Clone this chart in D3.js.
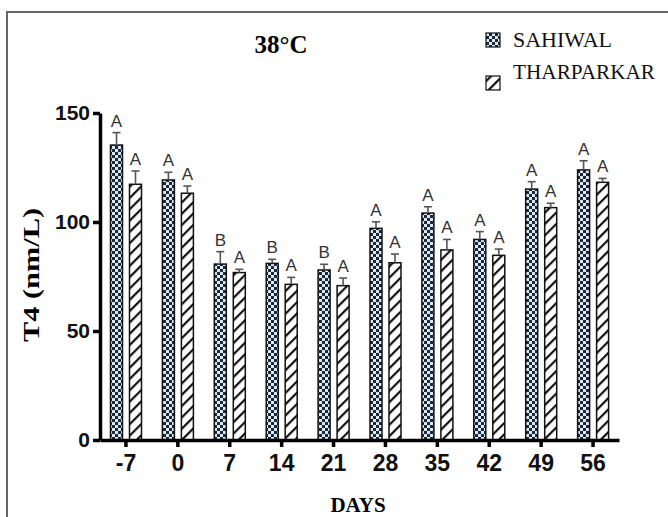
<!DOCTYPE html>
<html>
<head>
<meta charset="utf-8">
<script src="https://cdn.jsdelivr.net/npm/d3@7"></script>
<style>
  body { margin: 0; background: #fff; }
  svg { display: block; }
</style>
</head>
<body>
<div class="chart"></div>
<script>
// data
var days = ["-7", "0", "7", "14", "21", "28", "35", "42", "49", "56"];
var series = ["SAHIWAL", "THARPARKAR"];
var sahiwal = [135.3, 119.3, 80.7, 81.0, 78.0, 97.1, 104.1, 92.0, 115.1, 123.9];
var sahiwalErr = [141.0, 122.8, 86.4, 82.9, 80.6, 100.1, 107.0, 95.6, 118.5, 128.1];
var tharparkar = [117.3, 113.2, 76.8, 71.4, 70.8, 81.3, 87.2, 84.7, 106.6, 118.2];
var tharparkarErr = [123.4, 116.5, 78.3, 74.6, 74.3, 85.3, 92.0, 87.6, 108.6, 120.0];
var sahiwalLetters = ["A", "A", "B", "B", "B", "A", "A", "A", "A", "A"];
var tharparkarLetters = ["A", "A", "A", "A", "A", "A", "A", "A", "A", "A"];
var yTicks = [0, 50, 100, 150];

var W = 668, H = 517;
var margin = {top: 113, right: 49, bottom: 77, left: 100},
    width = W - margin.left - margin.right,
    height = H - margin.top - margin.bottom;

var SANS = "'Liberation Sans', Arial, sans-serif";
var SERIF = "'Liberation Serif', 'Times New Roman', serif";

var rows = [];
days.forEach(function(d, i) {
  rows.push({day: d, s: series[0], v: sahiwal[i], e: sahiwalErr[i], l: sahiwalLetters[i]});
  rows.push({day: d, s: series[1], v: tharparkar[i], e: tharparkarErr[i], l: tharparkarLetters[i]});
});

var svg = d3.select(".chart").append("svg")
    .attr("width", W)
    .attr("height", H);

// patterns
var defs = svg.append("defs");
var chk = defs.append("pattern")
    .attr("id", "checker")
    .attr("patternUnits", "userSpaceOnUse")
    .attr("width", 6).attr("height", 6);
chk.append("rect").attr("width", 6).attr("height", 6).attr("fill", "#dce9f2");
chk.append("rect").attr("width", 3).attr("height", 3).attr("fill", "#1b2838");
chk.append("rect").attr("x", 3).attr("y", 3).attr("width", 3).attr("height", 3).attr("fill", "#1b2838");

var hatch = defs.append("pattern")
    .attr("id", "hatch")
    .attr("patternUnits", "userSpaceOnUse")
    .attr("width", 8).attr("height", 8)
    .attr("patternTransform", "rotate(45)");
hatch.append("rect").attr("width", 8).attr("height", 8).attr("fill", "#fff");
hatch.append("rect").attr("width", 2.2).attr("height", 8).attr("fill", "#111");

var fills = {"SAHIWAL": "url(#checker)", "THARPARKAR": "url(#hatch)"};

// outer frame
svg.append("path")
    .attr("d", "M7," + H + "V12H" + W)
    .attr("fill", "none")
    .attr("stroke", "#666")
    .attr("stroke-width", 2);

var g = svg.append("g")
    .attr("transform", "translate(" + margin.left + "," + margin.top + ")");

// scales
var x0 = d3.scaleBand().domain(days).range([0, width]).padding(0);
var x1 = d3.scaleBand().domain(series).range([10.5, 41.5]).paddingInner(0.368);
var y = d3.scaleLinear().domain([0, 150]).range([height, 0]);

// bars
g.selectAll(".bar")
    .data(rows)
  .enter().append("rect")
    .attr("class", "bar")
    .attr("x", function(d) { return x0(d.day) + x1(d.s); })
    .attr("y", function(d) { return y(d.v); })
    .attr("width", x1.bandwidth())
    .attr("height", function(d) { return y(0) - y(d.v); })
    .attr("fill", function(d) { return fills[d.s]; })
    .attr("stroke", "#111")
    .attr("stroke-width", 1.5);

// error bars (upper only)
var eb = g.selectAll(".err")
    .data(rows)
  .enter().append("g")
    .attr("class", "err")
    .attr("transform", function(d) { return "translate(" + (x0(d.day) + x1(d.s) + x1.bandwidth() / 2) + ",0)"; });
eb.append("line")
    .attr("y1", function(d) { return y(d.v); })
    .attr("y2", function(d) { return y(d.e); })
    .attr("stroke", "#555").attr("stroke-width", 1.6);
eb.append("line")
    .attr("x1", -4).attr("x2", 4)
    .attr("y1", function(d) { return y(d.e); })
    .attr("y2", function(d) { return y(d.e); })
    .attr("stroke", "#555").attr("stroke-width", 1.6);
eb.append("text")
    .attr("y", function(d) { return y(d.e) - 6; })
    .attr("text-anchor", "middle")
    .attr("font-family", SANS)
    .attr("font-size", 17)
    .attr("fill", "#333")
    .text(function(d) { return d.l; });

// axes
var xAxis = g.append("g")
    .attr("transform", "translate(0," + height + ")")
    .call(d3.axisBottom(x0).tickSize(7).tickSizeOuter(0).tickPadding(8));
var yAxis = g.append("g")
    .call(d3.axisLeft(y).tickValues(yTicks).tickSize(7).tickSizeOuter(0).tickPadding(3));

[xAxis, yAxis].forEach(function(a) {
  a.select(".domain").attr("stroke", "#000").attr("stroke-width", 3.5);
  a.selectAll(".tick line").attr("stroke", "#000").attr("stroke-width", 3.5);
  a.selectAll(".tick text")
    .attr("fill", "#111")
    .attr("font-family", SANS)
    .attr("font-weight", "bold");
});
xAxis.selectAll(".tick text").attr("font-size", 23);
yAxis.selectAll(".tick text").attr("font-size", 21);

// titles
svg.append("text")
    .attr("x", 281).attr("y", 53)
    .attr("text-anchor", "middle")
    .attr("font-family", SERIF)
    .attr("font-weight", "bold")
    .attr("font-size", 25)
    .text("38°C");

svg.append("text")
    .attr("transform", "translate(39,275) rotate(-90)")
    .attr("text-anchor", "middle")
    .attr("font-family", SERIF)
    .attr("font-weight", "bold")
    .attr("font-size", 24)
    .attr("textLength", 134)
    .attr("lengthAdjust", "spacingAndGlyphs")
    .text("T4 (nm/L)");

svg.append("text")
    .attr("x", 358).attr("y", 512)
    .attr("text-anchor", "middle")
    .attr("font-family", SERIF)
    .attr("font-weight", "bold")
    .attr("font-size", 21)
    .text("DAYS");

// legend
var legend = svg.append("g");
var legendPos = [{sq: 33, ty: 47, w: 99}, {sq: 76, ty: 79, w: 142}];
series.forEach(function(s, i) {
  legend.append("rect")
    .attr("x", 486).attr("y", legendPos[i].sq)
    .attr("width", 14).attr("height", 14)
    .attr("fill", fills[s])
    .attr("stroke", "#111").attr("stroke-width", 1.2);
  legend.append("text")
    .attr("x", 513).attr("y", legendPos[i].ty)
    .attr("font-family", SERIF)
    .attr("font-size", 21)
    .attr("textLength", legendPos[i].w)
    .attr("lengthAdjust", "spacingAndGlyphs")
    .attr("fill", "#111")
    .text(s);
});
</script>
</body>
</html>
